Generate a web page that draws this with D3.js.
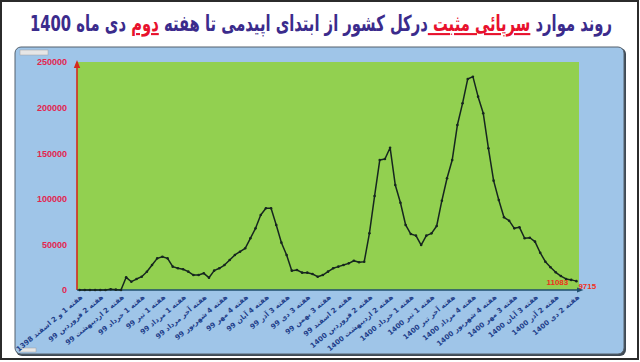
<!DOCTYPE html>
<html>
<head>
<meta charset="utf-8">
<script src="https://cdn.jsdelivr.net/npm/d3@7"></script>
<style>
  body { margin: 0; background: #fff; }
  #wrap { position: relative; width: 640px; height: 362px; overflow: hidden; }
  #chart { position: absolute; left: 0; top: 0; }
  #title {
    position: absolute; top: 11px; left: 30px; white-space: nowrap;
    font-family: "DejaVu Sans", sans-serif; font-weight: bold; font-size: 21px;
    color: #3b2b8c; transform-origin: 0 0;
  }
  #title .hl { color: #e8112d; text-decoration: underline; text-decoration-color: #e8112d; }
</style>
</head>
<body>
<div id="wrap">
  <svg id="chart" width="640" height="362"></svg>
  <div id="title" dir="rtl">روند موارد <span class="hl">سرپائی مثبت </span> درکل کشور از ابتدای اپیدمی تا هفته <span class="hl">دوم</span> دی ماه 1400</div>
</div>
<script>
// weekly outpatient positive cases, week 1-2 Esfand 1398 .. week 2 Dey 1400
const cases = [
  0, 0, 0, 0, 0, 0, 800, 400, 0, 13900,
  9100, 12000, 14600, 20000, 27400, 34700, 36500, 34700, 25600, 23800,
  22700, 20100, 16400, 16400, 18300, 13500, 21200, 23800, 27400, 32900,
  38400, 42000, 45700, 56700, 67600, 82200, 89600, 89600, 71300, 51900,
  38400, 21200, 21900, 19000, 19000, 17500, 14600, 16400, 20100, 23800,
  25600, 27400, 29200, 32100, 30400, 31000, 62100, 103000, 142500, 143600,
  156000, 115100, 95700, 71300, 61400, 59600, 49300, 59600, 62100, 70200,
  97900, 122500, 142500, 180900, 204700, 231400, 233900, 212000, 193700, 155400,
  119900, 98700, 79700, 76000, 67600, 68700, 56700, 57300, 53000, 40900,
  31000, 24900, 19400, 15300, 12100, 11083, 9715
]

// one label every 4 weeks
const weekLabels = [
  'هفته 1 و 2 اسفند 1398', 'هفته 2 فروردین 99', 'هفته 2 اردیبهشت 99', 'هفته 1 خرداد 99',
  'هفته 1 تیر 99', 'هفته 1 مرداد 99', 'هفته آخر مرداد 99', 'هفته 4 شهریور 99',
  'هفته 4 مهر 99', 'هفته 4 آبان 99', 'هفته 3 آذر 99', 'هفته 3 دی 99',
  'هفته 3 بهمن 99', 'هفته 2 اسفند 99', 'هفته 2 فروردین 1400', 'هفته 2 اردیبهشت 1400',
  'هفته 1 خرداد 1400', 'هفته 1 تیر 1400', 'هفته آخر تیر 1400', 'هفته 4 مرداد 1400',
  'هفته 4 شهریور 1400', 'هفته 3 مهر 1400', 'هفته 3 آبان 1400', 'هفته 2 آذر 1400',
  'هفته 2 دی 1400'
]
const labelStep = 4

const yTicks = [0, 50000, 100000, 150000, 200000, 250000]

// fit the title to its width
const title = document.getElementById('title')
const tw = title.getBoundingClientRect().width
title.style.transform = `scale(${582 / tw}, 1.05)`

const svg = d3.select('#chart')

// outer frame
svg.append('rect')
  .attr('x', 1).attr('y', 1).attr('width', 637).attr('height', 358)
  .attr('fill', 'none').attr('stroke', '#2b2b2b').attr('stroke-width', 2)

// blue panel
svg.append('rect')
  .attr('x', 16).attr('y', 48).attr('width', 610).attr('height', 308)
  .attr('rx', 6).attr('fill', '#3f4a55')
svg.append('rect')
  .attr('x', 15).attr('y', 47).attr('width', 609).attr('height', 307)
  .attr('rx', 6).attr('fill', '#9fc5e8').attr('stroke', '#55616d').attr('stroke-width', 1)

svg.append('rect').attr('x', 20).attr('y', 50).attr('width', 28).attr('height', 5)
  .attr('fill', '#e6e6e6').attr('stroke', '#a0a0a0').attr('stroke-width', 0.5)
svg.append('rect').attr('x', 20).attr('y', 348).attr('width', 16).attr('height', 4)
  .attr('fill', '#e6e6e6').attr('stroke', '#a0a0a0').attr('stroke-width', 0.5)

const x = d3.scalePoint().domain(d3.range(cases.length)).range([77, 579]).padding(0.5)
const y = d3.scaleLinear().domain([0, 250000]).range([290, 62])

// green plot area
svg.append('rect')
  .attr('x', 77).attr('y', y(250000)).attr('width', 579 - 77).attr('height', y(0) - y(250000))
  .attr('fill', '#92d050')

const defs = svg.append('defs')
defs.append('marker').attr('id', 'arrRed').attr('viewBox', '0 0 10 10')
  .attr('refX', 5).attr('refY', 5).attr('markerWidth', 5).attr('markerHeight', 5)
  .attr('orient', 'auto')
  .append('path').attr('d', 'M0,1L10,5L0,9z').attr('fill', '#d42a1c')
defs.append('marker').attr('id', 'arrBlue').attr('viewBox', '0 0 10 10')
  .attr('refX', 5).attr('refY', 5).attr('markerWidth', 5).attr('markerHeight', 5)
  .attr('orient', 'auto')
  .append('path').attr('d', 'M0,1L10,5L0,9z').attr('fill', '#1f4e6e')

// y axis
const yAxis = svg.append('g')
  .attr('transform', 'translate(77,0)')
  .call(d3.axisLeft(y).tickValues(yTicks).tickFormat(d3.format('d')).tickSize(0).tickPadding(10))
yAxis.select('.domain').remove()
yAxis.selectAll('text')
  .attr('fill', '#e3264f')
  .style('font-family', 'Liberation Sans, Arial, sans-serif')
  .style('font-weight', 'bold')
  .style('font-size', '9px')

svg.append('line')
  .attr('x1', 77).attr('x2', 77).attr('y1', y(0)).attr('y2', y(250000) + 2)
  .attr('stroke', '#d42a1c').attr('stroke-width', 1.6)
  .attr('marker-end', 'url(#arrRed)')

// x axis
const xAxis = svg.append('g')
  .attr('transform', `translate(0,${y(0)})`)
  .call(d3.axisBottom(x)
    .tickValues(d3.range(0, cases.length, labelStep))
    .tickFormat((i) => weekLabels[i / labelStep])
    .tickSize(0))
xAxis.select('.domain').remove()
xAxis.selectAll('text')
  .attr('y', 0).attr('dy', 0)
  .attr('text-anchor', 'end')
  .attr('transform', 'translate(3,8) rotate(-40)')
  .attr('fill', '#1f3f8a')
  .style('font-family', 'DejaVu Sans, sans-serif')
  .style('font-weight', 'bold')
  .style('font-size', '7px')

svg.append('line')
  .attr('x1', 77).attr('x2', 580).attr('y1', y(0)).attr('y2', y(0))
  .attr('stroke', '#1f4e6e').attr('stroke-width', 1.4)
  .attr('marker-end', 'url(#arrBlue)')

// series
const line = d3.line().x((d, i) => x(i)).y((d) => y(d))
svg.append('path')
  .datum(cases)
  .attr('d', line)
  .attr('fill', 'none')
  .attr('stroke', '#16261f')
  .attr('stroke-width', 1.5)
  .attr('stroke-linejoin', 'round')

svg.selectAll('.pt')
  .data(cases)
  .join('circle')
  .attr('class', 'pt')
  .attr('cx', (d, i) => x(i))
  .attr('cy', (d) => y(d))
  .attr('r', 1.3)
  .attr('fill', '#16261f')

// last two values
const n = cases.length
svg.append('text')
  .attr('x', x(n - 2) - 3).attr('y', y(cases[n - 2]) + 5)
  .attr('text-anchor', 'end')
  .attr('fill', '#f0301c')
  .style('font-family', 'Liberation Sans, Arial, sans-serif')
  .style('font-weight', 'bold').style('font-size', '8px')
  .text(cases[n - 2])
svg.append('text')
  .attr('x', x(n - 1) + 2).attr('y', y(cases[n - 1]) + 8)
  .attr('text-anchor', 'start')
  .attr('fill', '#f0301c')
  .style('font-family', 'Liberation Sans, Arial, sans-serif')
  .style('font-weight', 'bold').style('font-size', '8px')
  .text(cases[n - 1])
</script>
</body>
</html>
